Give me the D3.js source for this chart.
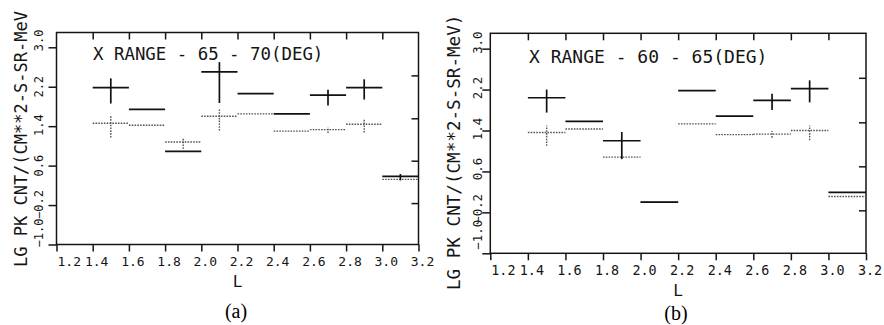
<!DOCTYPE html>
<html>
<head>
<meta charset="utf-8">
<script src="https://cdn.jsdelivr.net/npm/d3@7"></script>
<style>
  html, body { margin: 0; padding: 0; background: #fff; }
  svg { display: block; }
</style>
</head>
<body>
<svg id="chart" width="884" height="325"></svg>
<script>
// ---------- data ----------
const L_TICKS = [1.2, 1.4, 1.6, 1.8, 2.0, 2.2, 2.4, 2.6, 2.8, 3.0, 3.2];
const TOP_TICKS = [1.4, 1.6, 1.8, 2.0, 2.2, 2.4, 2.6, 2.8, 3.0];
const Y_TICKS = [3.0, 2.2, 1.4, 0.6, -0.2, -1.0];
const RIGHT_TICKS = [2.43, 1.56, 0.70, -0.16];
const L_DOMAIN = [1.2, 3.2];
const Y_DOMAIN = [-1.0, 3.3];
const BIN_STARTS = [1.4, 1.6, 1.8, 2.0, 2.2, 2.4, 2.6, 2.8, 3.0];
const BIN_WIDTH = 0.2;

// panel (a): X range 65-70 deg
const A_SOLID    = [2.18, 1.74, 0.89, 2.50, 2.06, 1.65, 2.03, 2.18, 0.38];
const A_SOLID_LO = [1.86, null, null, 1.87, null, null, 1.82, 1.94, 0.30];
const A_SOLID_HI = [2.37, null, null, 2.70, null, null, 2.14, 2.35, 0.43];
const A_DOT      = [1.46, 1.42, 1.08, 1.60, 1.65, 1.30, 1.33, 1.44, 0.32];
const A_DOT_LO   = [1.17, null, 0.94, 1.31, null, null, 1.26, 1.27, null];
const A_DOT_HI   = [1.62, null, 1.16, 1.76, null, null, 1.38, 1.55, null];

// panel (b): X range 60-65 deg
const B_SOLID    = [2.04, 1.58, 1.20, 0.00, 2.18, 1.68, 1.99, 2.22, 0.19];
const B_SOLID_LO = [1.75, null, 0.84, null, null, null, 1.80, 1.95, null];
const B_SOLID_HI = [2.20, null, 1.37, null, null, null, 2.12, 2.38, null];
const B_DOT      = [1.36, 1.43, 0.88, 0.00, 1.53, 1.32, 1.33, 1.40, 0.11];
const B_DOT_LO   = [1.10, null, null, null, null, null, 1.26, 1.21, null];
const B_DOT_HI   = [1.50, null, null, null, null, null, 1.39, 1.50, null];

const TITLE_A = "X RANGE - 65 - 70(DEG)";
const TITLE_B = "X RANGE - 60 - 65(DEG)";
const YTITLE_A = "LG PK CNT/(CM**2-S-SR-MeV";
const YTITLE_B = "LG PK CNT/(CM**2-S-SR-MeV)";
const X_LABEL = "L";

// ---------- drawing ----------
const svg = d3.select("#chart");
const MONO = "'DejaVu Sans Mono', 'Liberation Mono', monospace";
const INK = "#151515";

function panel(cfg) {
  const g = svg.append("g");
  const x = d3.scaleLinear().domain(L_DOMAIN).range([cfg.left, cfg.right]);
  const y = d3.scaleLinear().domain(Y_DOMAIN).range([cfg.bottom, cfg.top]);

  // frame
  g.append("rect")
    .attr("x", cfg.left).attr("y", cfg.top)
    .attr("width", cfg.right - cfg.left).attr("height", cfg.bottom - cfg.top)
    .attr("fill", "none").attr("stroke", INK).attr("stroke-width", 1.5);

  const styleAxis = sel => {
    sel.select(".domain").remove();
    sel.selectAll(".tick line").attr("stroke", INK).attr("stroke-width", 1.5);
    sel.selectAll(".tick text").remove();
  };

  // bottom axis (outward ticks)
  g.append("g").attr("transform", `translate(0,${cfg.bottom})`)
    .call(d3.axisBottom(x).tickValues(L_TICKS).tickSize(7).tickSizeOuter(0))
    .call(styleAxis);
  // top axis (inward ticks)
  g.append("g").attr("transform", `translate(0,${cfg.top})`)
    .call(d3.axisBottom(x).tickValues(TOP_TICKS).tickSize(7).tickSizeOuter(0))
    .call(styleAxis);
  // left axis (outward)
  g.append("g").attr("transform", `translate(${cfg.left},0)`)
    .call(d3.axisLeft(y).tickValues(Y_TICKS).tickSize(8).tickSizeOuter(0))
    .call(styleAxis);
  // right axis (inward)
  g.append("g").attr("transform", `translate(${cfg.right},0)`)
    .call(d3.axisLeft(y).tickValues(RIGHT_TICKS).tickSize(7).tickSizeOuter(0))
    .call(styleAxis);

  // x tick labels
  g.append("g").selectAll("text").data(L_TICKS).join("text")
    .attr("x", (d, i) => x(d) + (i === 0 ? 1 : 4))
    .attr("y", cfg.xLabY)
    .attr("text-anchor", (d, i) => i === 0 ? "start" : "middle")
    .attr("font-family", MONO).attr("font-size", cfg.xTickSize)
    .attr("fill", INK)
    .text(d => d3.format(".1f")(d));

  // y tick labels (rotated, centred on their own offsets)
  g.append("g").selectAll("text").data(Y_TICKS).join("text")
    .attr("transform", (d, i) => `translate(${cfg.yLabX},${y(d) + cfg.yLabOff[i]}) rotate(-90)`)
    .attr("text-anchor", "middle")
    .attr("font-family", MONO).attr("font-size", cfg.yTickSize)
    .attr("fill", INK)
    .text(d => d3.format(".1f")(d));

  // y title
  g.append("text")
    .attr("transform", `translate(${cfg.yTitleX},${cfg.yTitleY}) rotate(-90)`)
    .attr("text-anchor", "start")
    .attr("font-family", MONO).attr("font-size", cfg.yTitleSize)
    .attr("fill", INK)
    .text(cfg.yTitle);

  // in-plot title
  g.append("text")
    .attr("x", cfg.titleX).attr("y", cfg.titleY)
    .attr("font-family", MONO).attr("font-size", cfg.titleSize)
    .attr("fill", INK)
    .text(cfg.title);

  // x label
  g.append("text")
    .attr("x", (cfg.left + cfg.right) / 2).attr("y", cfg.lY)
    .attr("text-anchor", "middle")
    .attr("font-family", MONO).attr("font-size", 16)
    .attr("fill", INK)
    .text(X_LABEL);

  // panel letter
  g.append("text")
    .attr("x", cfg.letterX).attr("y", cfg.letterY)
    .attr("text-anchor", "middle")
    .attr("font-family", "'Liberation Serif', 'Times New Roman', serif")
    .attr("font-size", 20)
    .attr("fill", "#000")
    .text(cfg.letter);

  // series
  function series(vals, lo, hi, style) {
    const sg = g.append("g")
      .attr("stroke", style.color).attr("stroke-width", style.width)
      .attr("stroke-dasharray", style.dash).attr("fill", "none");
    sg.selectAll("line.h").data(BIN_STARTS).join("line").attr("class", "h")
      .attr("x1", d => x(d)).attr("x2", d => x(d + BIN_WIDTH))
      .attr("y1", (d, i) => y(vals[i])).attr("y2", (d, i) => y(vals[i]));
    const eb = BIN_STARTS.map((d, i) => ({ c: d + BIN_WIDTH / 2, lo: lo[i], hi: hi[i] }))
      .filter(e => e.lo !== null && e.hi !== null);
    sg.selectAll("line.v").data(eb).join("line").attr("class", "v")
      .attr("x1", e => x(e.c)).attr("x2", e => x(e.c))
      .attr("y1", e => y(e.lo)).attr("y2", e => y(e.hi));
  }
  series(cfg.dot, cfg.dotLo, cfg.dotHi, { color: "#555", width: 1.4, dash: "1.6,1.2" });
  series(cfg.solid, cfg.solidLo, cfg.solidHi, { color: "#111", width: 1.7, dash: null });
}

panel({
  left: 56.5, right: 418.5, top: 32.5, bottom: 244.5,
  title: TITLE_A, titleX: 93, titleY: 60, titleSize: 17.4,
  yTitle: YTITLE_A, yTitleX: 27, yTitleY: 267, yTitleSize: 17,
  yLabX: 43, yTickSize: 12, xTickSize: 13,
  yLabOff: [-7, 0, -1, 0, -0.5, -11.5],
  xLabY: 266, lY: 287, letter: "(a)", letterX: 236, letterY: 318,
  solid: A_SOLID, solidLo: A_SOLID_LO, solidHi: A_SOLID_HI,
  dot: A_DOT, dotLo: A_DOT_LO, dotHi: A_DOT_HI
});

panel({
  left: 490.3, right: 866, top: 33.3, bottom: 253.3,
  title: TITLE_B, titleX: 529, titleY: 63.3, titleSize: 18,
  yTitle: YTITLE_B, yTitleX: 460, yTitleY: 290, yTitleSize: 17.6,
  yLabX: 482, yTickSize: 12.4, xTickSize: 13.4,
  yLabOff: [-6, -1.5, -1.5, -2.5, -3.5, -18.5],
  xLabY: 275, lY: 296, letter: "(b)", letterX: 676, letterY: 320,
  solid: B_SOLID, solidLo: B_SOLID_LO, solidHi: B_SOLID_HI,
  dot: B_DOT, dotLo: B_DOT_LO, dotHi: B_DOT_HI
});
</script>
</body>
</html>
